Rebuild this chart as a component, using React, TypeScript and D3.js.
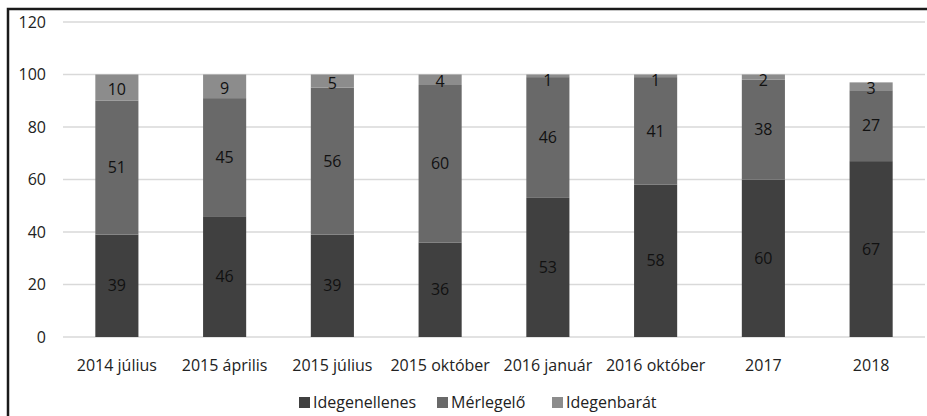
import React, { useRef, useEffect } from 'react';
import * as d3 from 'd3';

const categories = ['2014 július', '2015 április', '2015 július', '2015 október', '2016 január', '2016 október', '2017', '2018'];
const idegenellenes = [39, 46, 39, 36, 53, 58, 60, 67];
const merlegelo = [51, 45, 56, 60, 46, 41, 38, 27];
const idegenbarat = [10, 9, 5, 4, 1, 1, 2, 3];
const seriesNames = ['Idegenellenes', 'Mérlegelő', 'Idegenbarát'];
const colors = ['#404040', '#696969', '#8c8c8c'];
const yTicks = [0, 20, 40, 60, 80, 100, 120];

const W = 927;
const H = 416;
const FONT = "'Open Sans', 'DejaVu Sans', sans-serif";
const FS = 16;

export default function App() {
    const svgRef = useRef<SVGSVGElement>(null);

    useEffect(() => {
        if (!svgRef.current) return;
        const svg = d3.select(svgRef.current);
        svg.selectAll('*').remove();

        const left = 63, right = 925, top = 22, bottom = 337;

        const x = d3.scaleBand().domain(categories).range([left, right]).paddingInner(0.6).paddingOuter(0.3);
        const y = d3.scaleLinear().domain([0, 120]).range([bottom, top]);

        // outer frame (top + left edges visible)
        svg.append('path')
            .attr('d', `M8,${H} L8,9 L${W},9`)
            .attr('fill', 'none')
            .attr('stroke', '#1a1a1a')
            .attr('stroke-width', 2.5);

        // grid
        svg.append('g')
            .selectAll('line')
            .data(yTicks)
            .join('line')
            .attr('x1', left)
            .attr('x2', right)
            .attr('y1', d => y(d))
            .attr('y2', d => y(d))
            .attr('stroke', '#d9d9d9')
            .attr('stroke-width', 1.3);

        // y labels
        svg.append('g')
            .selectAll('text')
            .data(yTicks)
            .join('text')
            .attr('x', 46)
            .attr('y', d => y(d))
            .attr('dy', '0.35em')
            .attr('text-anchor', 'end')
            .attr('font-family', FONT)
            .attr('font-size', FS)
            .attr('fill', '#222')
            .text(d => d);

        const rows = categories.map((c, i) => ({ cat: c, s0: idegenellenes[i], s1: merlegelo[i], s2: idegenbarat[i] }));
        const stack = d3.stack<any>().keys(['s0', 's1', 's2']);
        const stacked = stack(rows);

        stacked.forEach((layer, li) => {
            const g = svg.append('g');
            g.selectAll('rect')
                .data(layer)
                .join('rect')
                .attr('x', d => x(d.data.cat)!)
                .attr('width', x.bandwidth())
                .attr('y', d => y(d[1]))
                .attr('height', d => y(d[0]) - y(d[1]))
                .attr('fill', colors[li]);
            g.selectAll('text')
                .data(layer)
                .join('text')
                .attr('x', d => x(d.data.cat)! + x.bandwidth() / 2)
                .attr('y', d => {
                    const mid = y((d[0] + d[1]) / 2);
                    return li === 2 ? Math.max(mid + 2, y(d[1]) + 6) : mid;
                })
                .attr('dy', '0.35em')
                .attr('text-anchor', 'middle')
                .attr('font-family', FONT)
                .attr('font-size', FS)
                .attr('fill', '#111')
                .text(d => d[1] - d[0]);
        });

        // x labels
        svg.append('g')
            .selectAll('text')
            .data(categories)
            .join('text')
            .attr('x', d => x(d)! + x.bandwidth() / 2)
            .attr('y', 365)
            .attr('dy', '0.35em')
            .attr('text-anchor', 'middle')
            .attr('font-family', FONT)
            .attr('font-size', FS)
            .attr('fill', '#222')
            .text(d => d);

        // legend
        const legendX = [299, 437, 552];
        const lg = svg.append('g');
        seriesNames.forEach((name, i) => {
            lg.append('rect')
                .attr('x', legendX[i])
                .attr('y', 397)
                .attr('width', 11)
                .attr('height', 11)
                .attr('fill', colors[i]);
            lg.append('text')
                .attr('x', legendX[i] + 14)
                .attr('y', 402)
                .attr('dy', '0.35em')
                .attr('font-family', FONT)
                .attr('font-size', FS)
                .attr('fill', '#222')
                .text(name);
        });
    }, []);

    return (
        <svg
            ref={svgRef}
            width={W}
            height={H}
            style={{ position: 'absolute', left: 0, top: 0, background: '#fff' }}
        />
    );
}
